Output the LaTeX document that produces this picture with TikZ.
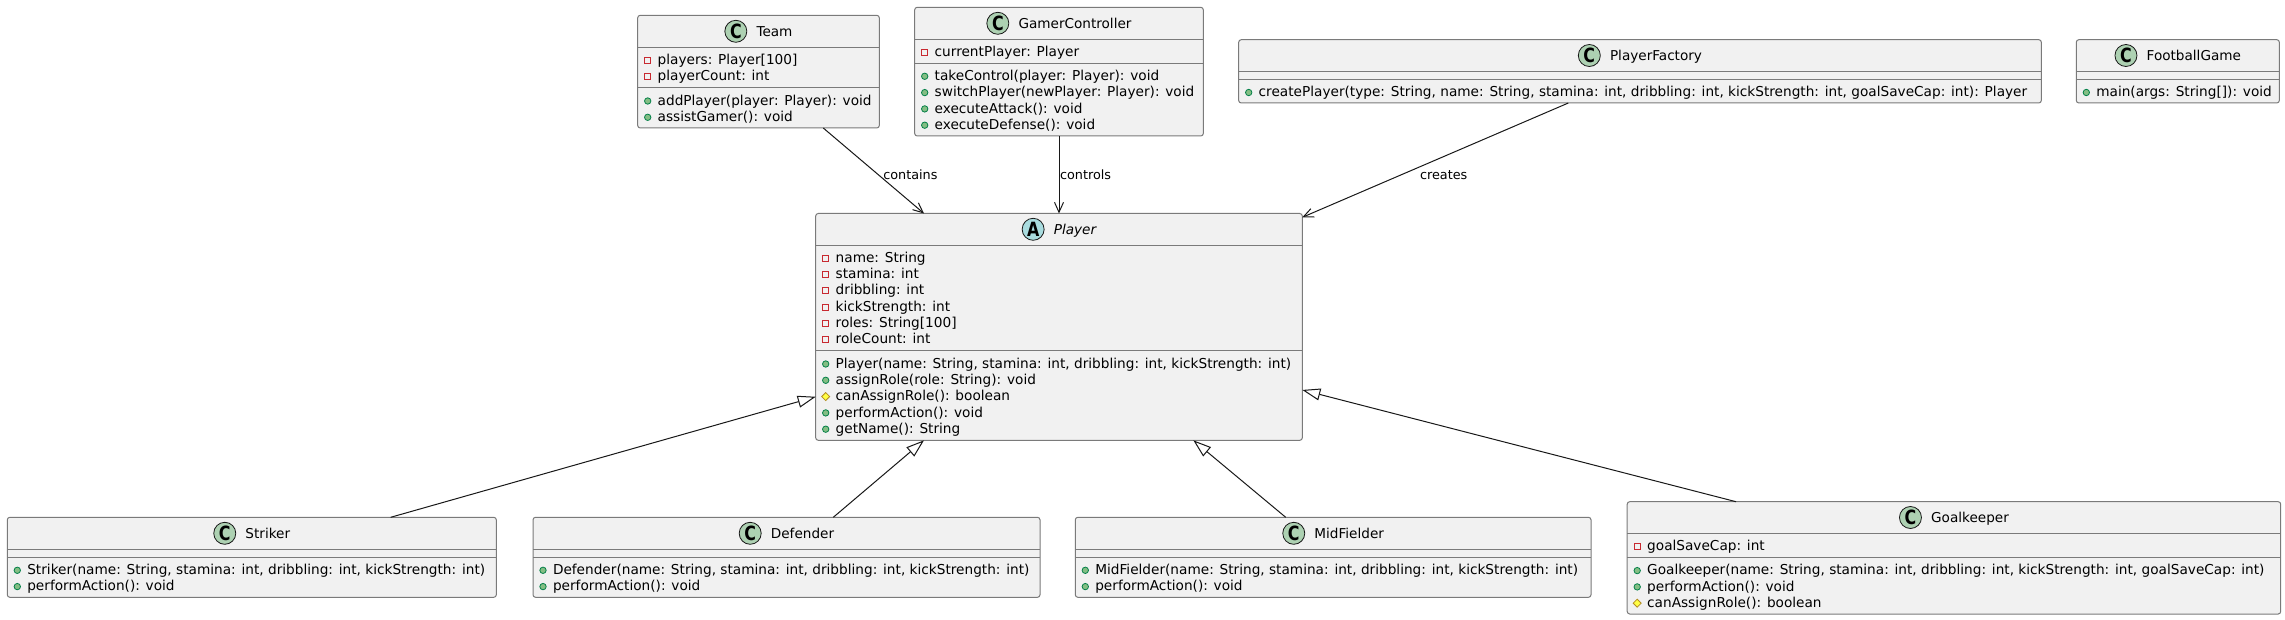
\documentclass[tikz,border=0pt]{standalone}
\usepackage{fontspec}
\setmainfont{DejaVu Sans}
\usetikzlibrary{arrows.meta,calc}
\definecolor{boxfill}{HTML}{F1F1F1}
\definecolor{boxline}{HTML}{7A7A7A}
\definecolor{edgecol}{HTML}{181818}
\definecolor{cgreen}{HTML}{ADD1B2}
\definecolor{ablue}{HTML}{A9DCDF}
\definecolor{privred}{HTML}{C82930}
\definecolor{pubfill}{HTML}{84BE84}
\definecolor{publine}{HTML}{038048}
\definecolor{profill}{HTML}{FFFF44}
\definecolor{proline}{HTML}{B38D22}
\tikzset{
  umlboxstyle/.style={draw=boxline, fill=boxfill, line width=0.75pt, rounded corners=1.9pt, inner sep=0pt, outer sep=0pt},
  divline/.style={draw=boxline, line width=0.75pt},
  memberstyle/.style={inner sep=0pt, outer sep=0pt, font=\fontsize{10.25pt}{12pt}\selectfont, text=black},
  titlestyle/.style={inner sep=0pt, outer sep=0pt, font=\fontsize{10.2pt}{12pt}\selectfont, text=black},
  umlletter/.style={circle, draw=edgecol, line width=0.6pt, minimum size=16.5pt, inner sep=0pt, font=\fontsize{14pt}{14pt}\selectfont\bfseries},
  privicon/.style={draw=privred, line width=0.6pt},
  pubicon/.style={draw=publine, fill=pubfill, line width=0.6pt},
  proicon/.style={draw=proline, fill=profill, line width=0.6pt},
  assocedge/.style={draw=edgecol, line width=0.75pt, -{Straight Barb[length=7.5pt,width=6.75pt]}},
  extendsedge/.style={draw=edgecol, line width=0.75pt, -{Triangle[open,length=13.5pt,width=9pt]}},
  lblstyle/.style={inner sep=0pt, outer sep=0pt, font=\fontsize{9.6pt}{11pt}\selectfont, text height=7.4pt, text depth=0pt},
}
\newcommand\umlbox[5]{\node[umlboxstyle, minimum width={(#3-(#2))*0.75pt}, minimum height={(#5-(#4))*0.75pt}] (#1) at ({(#2+#3)/2},{(#4+#5)/2}) {};}
\newcommand\umldiv[3]{\draw[divline] (#1,#3) -- (#2,#3);}
\newcommand\umltitle[6]{%
  \node[titlestyle, anchor=base] (#1) at ({#2+16},{#3+5.3}) {#6};
  \node[umlletter, fill=#4] (#1-c) at ($(#1.base west)+(-20.7,-5.3)$) {\scalebox{0.85}[1.05]{#5}};
}
\newcommand\iconpri[2]{\draw[privicon] ({#1-3},{#2-3}) rectangle ({#1+3},{#2+3});}
\newcommand\iconpub[2]{\draw[pubicon] ({#1},{#2}) circle[radius=2.4pt];}
\newcommand\iconpro[2]{\draw[proicon] ({#1-4},{#2}) -- ({#1},{#2-4}) -- ({#1+4},{#2}) -- ({#1},{#2+4}) -- cycle;}
\newcommand\umlmem[5]{%
  \csname icon#4\endcsname{#2+10}{#3+1}%
  \node[memberstyle, anchor=base west] (#1) at ({#2+20},{#3+5.2}) {#5};
}
\begin{document}
\begin{tikzpicture}[x=0.75pt, y=-0.75pt]
\useasboundingbox (0,0) rectangle (2285,620);
\fill[white] (0,0) rectangle (2285,620);

% Team
\umlbox{team}{637.7}{879.3}{15.3}{128}
\umltitle{team-t}{758.5}{31.3}{cgreen}{C}{Team}
\umldiv{637.7}{879.3}{47.7}
\umlmem{team-a1}{637.7}{59.3}{pri}{players: Player[100]}
\umlmem{team-a2}{637.7}{75.6}{pri}{playerCount: int}
\umldiv{637.7}{879.3}{87.7}
\umlmem{team-m1}{637.7}{100}{pub}{addPlayer(player: Player): void}
\umlmem{team-m2}{637.7}{116.3}{pub}{assistGamer(): void}

% GamerController
\umlbox{gc}{914.7}{1203.3}{7.3}{136}
\umltitle{gc-t}{1059}{23.3}{cgreen}{C}{GamerController}
\umldiv{914.7}{1203.3}{39.3}
\umlmem{gc-a1}{914.7}{51.7}{pri}{currentPlayer: Player}
\umldiv{914.7}{1203.3}{63.3}
\umlmem{gc-m1}{914.7}{75.3}{pub}{takeControl(player: Player): void}
\umlmem{gc-m2}{914.7}{91.6}{pub}{switchPlayer(newPlayer: Player): void}
\umlmem{gc-m3}{914.7}{107.9}{pub}{executeAttack(): void}
\umlmem{gc-m4}{914.7}{124.2}{pub}{executeDefense(): void}

% PlayerFactory
\umlbox{pf}{1238.7}{2041.3}{39.7}{103}
\umltitle{pf-t}{1640}{55.5}{cgreen}{C}{PlayerFactory}
\umldiv{1238.7}{2041.3}{71.5}
\umldiv{1238.7}{2041.3}{79.5}
\umlmem{pf-m1}{1238.7}{91.5}{pub}{createPlayer(type: String, name: String, stamina: int, dribbling: int, kickStrength: int, goalSaveCap: int): Player}

% FootballGame
\umlbox{fg}{2076.3}{2279.3}{39.7}{103}
\umltitle{fg-t}{2177.8}{55.5}{cgreen}{C}{FootballGame}
\umldiv{2076.3}{2279.3}{71.5}
\umldiv{2076.3}{2279.3}{79.5}
\umlmem{fg-m1}{2076.3}{91.5}{pub}{main(args: String[]): void}

% Player
\umlbox{player}{815.7}{1302.3}{213.5}{440.3}
\umltitle{player-t}{1059}{229.3}{ablue}{A}{\itshape Player}
\umldiv{815.7}{1302.3}{245.3}
\umlmem{player-a1}{815.7}{257.3}{pri}{name: String}
\umlmem{player-a2}{815.7}{273.5}{pri}{stamina: int}
\umlmem{player-a3}{815.7}{289.7}{pri}{dribbling: int}
\umlmem{player-a4}{815.7}{306}{pri}{kickStrength: int}
\umlmem{player-a5}{815.7}{322.2}{pri}{roles: String[100]}
\umlmem{player-a6}{815.7}{338.5}{pri}{roleCount: int}
\umldiv{815.7}{1302.3}{350.3}
\umlmem{player-m1}{815.7}{363}{pub}{Player(name: String, stamina: int, dribbling: int, kickStrength: int)}
\umlmem{player-m2}{815.7}{379.3}{pub}{assignRole(role: String): void}
\umlmem{player-m3}{815.7}{395.6}{pro}{canAssignRole(): boolean}
\umlmem{player-m4}{815.7}{411.9}{pub}{performAction(): void}
\umlmem{player-m5}{815.7}{428.2}{pub}{getName(): String}

% Striker
\umlbox{striker}{7.3}{496.3}{517.3}{597.3}
\umltitle{striker-t}{251.8}{533.3}{cgreen}{C}{Striker}
\umldiv{7.3}{496.3}{549.3}
\umldiv{7.3}{496.3}{557.3}
\umlmem{striker-m1}{7.3}{569.3}{pub}{Striker(name: String, stamina: int, dribbling: int, kickStrength: int)}
\umlmem{striker-m2}{7.3}{585.6}{pub}{performAction(): void}

% Defender
\umlbox{defender}{533}{1040}{517.3}{597.3}
\umltitle{defender-t}{786.5}{533.3}{cgreen}{C}{Defender}
\umldiv{533}{1040}{549.3}
\umldiv{533}{1040}{557.3}
\umlmem{defender-m1}{533}{569.3}{pub}{Defender(name: String, stamina: int, dribbling: int, kickStrength: int)}
\umlmem{defender-m2}{533}{585.6}{pub}{performAction(): void}

% MidFielder
\umlbox{mid}{1075.3}{1591}{517.3}{597.3}
\umltitle{mid-t}{1333.2}{533.3}{cgreen}{C}{MidFielder}
\umldiv{1075.3}{1591}{549.3}
\umldiv{1075.3}{1591}{557.3}
\umlmem{mid-m1}{1075.3}{569.3}{pub}{MidFielder(name: String, stamina: int, dribbling: int, kickStrength: int)}
\umlmem{mid-m2}{1075.3}{585.6}{pub}{performAction(): void}

% Goalkeeper
\umlbox{gk}{1627.2}{2280.7}{501.7}{614}
\umltitle{gk-t}{1954}{517.5}{cgreen}{C}{Goalkeeper}
\umldiv{1627.2}{2280.7}{533.5}
\umlmem{gk-a1}{1627.2}{545.3}{pri}{goalSaveCap: int}
\umldiv{1627.2}{2280.7}{557.6}
\umlmem{gk-m1}{1627.2}{569.6}{pub}{Goalkeeper(name: String, stamina: int, dribbling: int, kickStrength: int, goalSaveCap: int)}
\umlmem{gk-m2}{1627.2}{585.9}{pub}{performAction(): void}
\umlmem{gk-m3}{1627.2}{602.2}{pro}{canAssignRole(): boolean}

% associations
\draw[assocedge] ($(team.south west)!0.768!(team.south east)$) -- node[lblstyle, pos=0.547, anchor=west, xshift=3.7pt] (lcontains) {contains} ($(player.north west)!0.2226!(player.north east)$);
\draw[assocedge] (gc.south) -- node[lblstyle, pos=0.494, anchor=west, xshift=0.75pt] (lcontrols) {controls} (player.north);
\draw[assocedge] ($(pf.south west)!0.4107!(pf.south east)$) -- node[lblstyle, pos=0.624, anchor=west, xshift=13.3pt] (lcreates) {creates} ($(player.north east)+(0,3.8)$);

% generalisations
\draw[extendsedge] ($(striker.north west)!0.784!(striker.north east)$) -- ($(player.north west)!0.808!(player.south west)$);
\draw[extendsedge] ($(defender.north west)!0.5923!(defender.north east)$) -- ($(player.south west)!0.2226!(player.south east)$);
\draw[extendsedge] ($(mid.north west)!0.408!(mid.north east)$) -- ($(player.south west)!0.776!(player.south east)$);
\draw[extendsedge] ($(gk.north west)!0.1665!(gk.north east)$) -- ($(player.north east)!0.778!(player.south east)$);
\end{tikzpicture}
\end{document}
